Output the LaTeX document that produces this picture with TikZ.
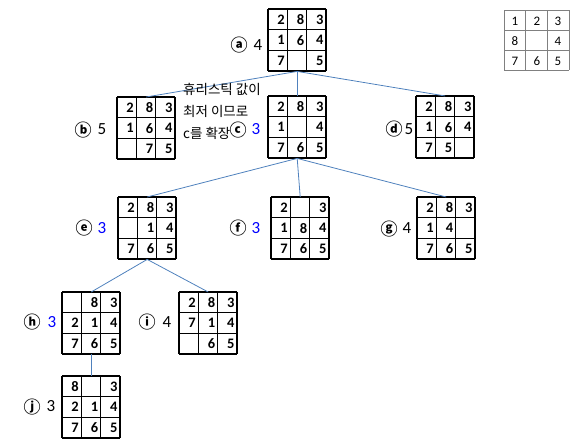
\documentclass[tikz,border=0pt]{standalone}
\usepackage{fontspec}
\setmainfont{Carlito}
\newfontfamily\kor{Noto Sans CJK KR}
\usetikzlibrary{positioning,calc}

\definecolor{linkblue}{RGB}{79,129,189}

\tikzset{
  board/.style={minimum width=58pt, minimum height=62pt, inner sep=0pt},
  cellnum/.style={font=\bfseries\fontsize{14.5}{14.5}\selectfont, inner sep=0pt},
  goalnum/.style={font=\fontsize{13}{13}\selectfont, inner sep=0pt},
  link/.style={draw=linkblue, line width=0.8pt},
  circ/.style={font=\kor\bfseries\fontsize{17}{17}\selectfont, inner sep=0pt},
  hval/.style={font=\fontsize{17}{17}\selectfont, inner sep=0pt},
  best/.style={hval, text=blue},
  note/.style={font=\kor\fontsize{13.5}{22}\selectfont, align=left, inner sep=0pt},
}

% board: name, top-left corner, nine cells
\newcommand{\boardstate}[3]{
  \node[board, anchor=north west] (#1) at (#2) {};
  \foreach \v [count=\k from 0] in {#3} {
    \pgfmathtruncatemacro{\col}{mod(\k,3)}
    \pgfmathtruncatemacro{\row}{div(\k,3)}
    \node[cellnum, anchor=east] at ($(#1.north west)+(\col*19.333+17,\row*20.667+10.5)$) {\v};
  }
  \foreach \i in {0,1,2,3} {
    \draw[line width=1.4pt] (#1.north west) ++(\i*19.333,0) -- ++(0,62);
    \draw[line width=1.4pt] (#1.north west) ++(0,\i*20.667) -- ++(58,0);
  }
}

\begin{document}
\begin{tikzpicture}[x=1pt, y=-1pt]
  \useasboundingbox (0,0) rectangle (583,442);

  % Goal state
  \node[minimum width=65pt, minimum height=60pt, inner sep=0pt, anchor=north west] (goal) at (504,10) {};
  \foreach \i in {0,1,2,3} {
    \draw[gray, line width=0.8pt] (goal.north west) ++(\i*21.667,0) -- ++(0,60);
    \draw[gray, line width=0.8pt] (goal.north west) ++(0,\i*20) -- ++(65,0);
  }
  \node[goalnum] at (515,21) {1};
  \node[goalnum] at (537,21) {2};
  \node[goalnum] at (558,21) {3};
  \node[goalnum] at (515,41) {8};
  \node[goalnum] at (558,41) {4};
  \node[goalnum] at (515,61) {7};
  \node[goalnum] at (537,61) {6};
  \node[goalnum] at (558,61) {5};

  % Search tree
  \boardstate{a}{268,9}{2,8,3,1,6,4,7,{},5}
  \boardstate{b}{117,97}{2,8,3,1,6,4,{},7,5}
  \boardstate{c}{268,96}{2,8,3,1,{},4,7,6,5}
  \boardstate{d}{416,96}{2,8,3,1,6,4,7,5,{}}
  \boardstate{e}{118,197}{2,8,3,{},1,4,7,6,5}
  \boardstate{f}{271,197}{2,{},3,1,8,4,7,6,5}
  \boardstate{g}{417,197}{2,8,3,1,4,{},7,6,5}
  \boardstate{h}{62,292}{{},8,3,2,1,4,7,6,5}
  \boardstate{i}{179,292}{2,8,3,7,1,4,{},6,5}
  \boardstate{j}{62,376}{8,{},3,2,1,4,7,6,5}

  % Connectors
  \draw[link] (a.south) -- (b.north);
  \draw[link] (a.south) -- (c.north);
  \draw[link] (a.south) -- (d.north);
  \draw[link] (c.south) -- (e.north);
  \draw[link] (c.south) -- (f.north);
  \draw[link] (c.south) -- (g.north);
  \draw[link] (e.south) -- (h.north);
  \draw[link] (e.south) -- (i.north);
  \draw[link] (h.south) -- (j.north);

  % Labels and heuristic values
  \node[circ] (la) at (239,45) {ⓐ};  \node[hval] (va) at (258,45) {4};
  \node[circ] (lb) at (83,130)  {ⓑ}; \node[hval] (vb) at (102,129) {5};
  \node[circ] (lc) at (238,130) {ⓒ}; \node[best] (vc) at (256,129) {3};
  \node[circ] (ld) at (394,129) {ⓓ}; \node[hval] (vd) at (409,129) {5};
  \node[circ] (le) at (84,228)  {ⓔ}; \node[best] (ve) at (102,228) {3};
  \node[circ] (lf) at (238,228) {ⓕ}; \node[best] (vf) at (256,228) {3};
  \node[circ] (lg) at (389,229) {ⓖ}; \node[hval] (vg) at (407,228) {4};
  \node[circ] (lh) at (32,322)  {ⓗ}; \node[best] (vh) at (52,322) {3};
  \node[circ] (li) at (147,322) {ⓘ}; \node[hval] (vi) at (167,322) {4};
  \node[circ] (lj) at (32,407)  {ⓙ}; \node[hval] (vj) at (51,406) {3};

  % Note
  \node[note, anchor=north west] (note) at (183,83) {휴리스틱 값이\\최저 이므로\\c를 확장};
\end{tikzpicture}
\end{document}
